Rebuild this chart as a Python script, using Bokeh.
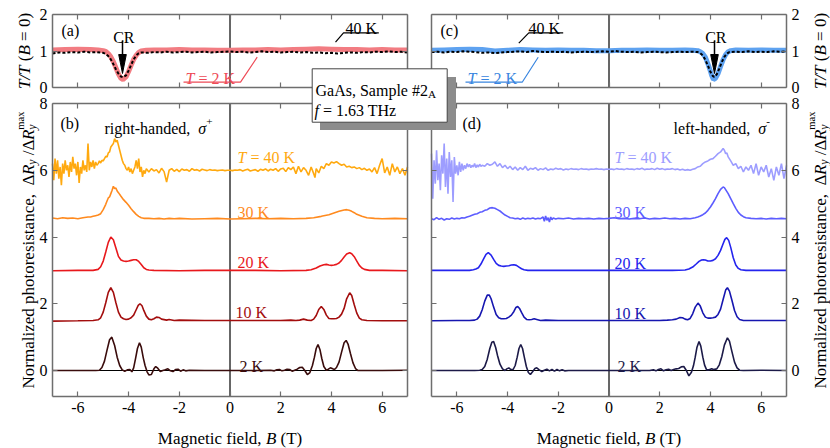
import math
from bokeh.plotting import figure
from bokeh.models import Range1d, LinearAxis, FixedTicker, Label, BoxAnnotation
from bokeh.embed import file_html
from bokeh.resources import INLINE

# ---------------- data ----------------
B_LIM = (-7, 7)
R_LIM = (-0.78, 8)
T_LIM = (0, 2)
B_TICKS = [-6, -4, -2, 0, 2, 4, 6]
B_TICK_TEXT = ["-6", "-4", "-2", "0", "2", "4", "6"]
R_TICKS = [0, 2, 4, 6, 8]
T_TICKS = [0, 1, 2]

# (a) transmission, T = 2 K (thick) and 40 K (dotted)
TA_2K = [(-7.0,1.03),(-6.5,1.04),(-6.0,1.05),(-5.5,1.04),(-5.2,1.03),(-5.0,1.01),(-4.9,0.99),(-4.8,0.93),
         (-4.7,0.84),(-4.6,0.71),(-4.5,0.54),(-4.4,0.37),(-4.3,0.25),(-4.22,0.22),(-4.1,0.29),(-4.0,0.44),
         (-3.9,0.61),(-3.8,0.77),(-3.7,0.88),(-3.6,0.96),(-3.5,1.0),(-3.3,1.02),(-3.0,1.03),(-2.5,1.03),
         (-2.0,1.04),(-1.5,1.03),(-1.0,1.03),(-0.5,1.02),(0.0,1.02),(0.5,1.03),(1.0,1.03),(1.5,1.04),
         (2.0,1.03),(2.5,1.04),(3.0,1.05),(3.5,1.06),(4.0,1.05),(4.5,1.04),(5.0,1.04),(5.5,1.03),
         (6.0,1.04),(6.5,1.03),(7.0,1.03)]
TA_40K = [(-7.0,0.93),(-6.75,0.96),(-6.5,0.95),(-6.25,0.97),(-6.0,0.96),(-5.75,0.98),(-5.5,0.96),(-5.25,0.97),
          (-5.0,0.95),(-4.9,0.92),(-4.8,0.86),(-4.7,0.77),(-4.6,0.64),(-4.5,0.5),(-4.4,0.38),(-4.3,0.3),
          (-4.22,0.28),(-4.1,0.33),(-4.0,0.46),(-3.9,0.62),(-3.8,0.77),(-3.7,0.88),(-3.6,0.94),(-3.5,0.96),
          (-3.25,0.95),(-3.0,0.97),(-2.75,0.96),(-2.5,0.98),(-2.25,0.96),(-2.0,0.97),(-1.75,0.98),(-1.5,0.96),
          (-1.25,0.97),(-1.0,0.98),(-0.75,0.96),(-0.5,0.97),(-0.25,0.98),(0.0,0.99),(0.25,0.97),(0.5,0.98),
          (0.75,0.96),(1.0,0.97),(1.25,0.99),(1.5,0.97),(1.75,0.98),(2.0,0.96),(2.25,0.97),(2.5,0.98),
          (2.75,0.96),(3.0,0.97),(3.25,0.95),(3.5,0.96),(3.75,0.94),(4.0,0.95),(4.25,0.93),(4.5,0.95),
          (4.75,0.96),(5.0,0.95),(5.25,0.97),(5.5,0.96),(5.75,0.98),(6.0,0.97),(6.25,0.99),(6.5,0.97),
          (6.75,0.98),(7.0,0.96)]
# (c) transmission
TC_2K = [(-7.0,1.02),(-6.5,1.03),(-6.0,1.04),(-5.5,1.05),(-5.0,1.04),(-4.5,1.0),(-4.0,1.02),(-3.5,1.04),
         (-3.0,1.03),(-2.5,1.02),(-2.0,1.03),(-1.5,1.02),(-1.0,1.02),(-0.5,1.01),(0.0,1.01),(0.5,1.02),
         (1.0,1.02),(1.5,1.03),(2.0,1.02),(2.5,1.02),(3.0,1.03),(3.3,1.02),(3.5,1.01),(3.6,0.98),(3.7,0.93),
         (3.8,0.83),(3.9,0.65),(4.0,0.45),(4.05,0.33),(4.12,0.22),(4.2,0.25),(4.3,0.38),(4.4,0.58),(4.5,0.76),
         (4.6,0.9),(4.7,0.98),(4.8,1.01),(5.0,1.03),(5.5,1.02),(6.0,1.03),(6.5,1.02),(7.0,1.02)]
TC_40K = [(-7.0,0.97),(-6.75,0.98),(-6.5,0.96),(-6.25,0.98),(-6.0,0.97),(-5.75,0.99),(-5.5,0.98),(-5.25,0.97),
          (-5.0,0.95),(-4.75,0.96),(-4.5,0.94),(-4.25,0.96),(-4.0,0.97),(-3.75,0.98),(-3.5,0.99),(-3.25,0.97),
          (-3.0,1.0),(-2.75,0.98),(-2.5,0.97),(-2.25,0.98),(-2.0,0.97),(-1.75,0.98),(-1.5,0.96),(-1.25,0.97),
          (-1.0,0.98),(-0.75,0.97),(-0.5,0.98),(-0.25,0.99),(0.0,0.98),(0.25,1.0),(0.5,0.98),(0.75,0.97),
          (1.0,0.98),(1.25,0.96),(1.5,0.97),(1.75,0.98),(2.0,0.97),(2.25,0.96),(2.5,0.97),(2.75,0.98),
          (3.0,0.97),(3.25,0.98),(3.5,0.97),(3.6,0.94),(3.7,0.88),(3.8,0.76),(3.9,0.6),(4.0,0.43),(4.1,0.31),
          (4.15,0.29),(4.25,0.36),(4.35,0.52),(4.45,0.7),(4.55,0.84),(4.65,0.93),(4.75,0.97),(5.0,0.98),
          (5.25,0.97),(5.5,0.99),(5.75,0.97),(6.0,0.98),(6.25,0.97),(6.5,0.99),(6.75,0.98),(7.0,0.99)]

# (b) right-handed sigma+, photoresistance (offset curves)
PB_2K = [(-7.0,0.0),(-6.0,0.0),(-5.3,0.0),(-5.15,0.01),(-5.05,0.09),(-4.95,0.28),(-4.85,0.61),(-4.75,0.92),
         (-4.66,1.0),(-4.55,0.75),(-4.45,0.40),(-4.35,0.15),(-4.25,0.02),(-4.15,-0.02),(-4.05,0.02),(-3.95,0.03),
         (-3.87,-0.04),(-3.8,0.08),(-3.72,0.38),(-3.65,0.66),(-3.57,0.83),(-3.5,0.70),(-3.42,0.38),(-3.35,0.15),
         (-3.27,-0.04),(-3.2,-0.13),(-3.1,-0.12),(-3.0,0.05),(-2.93,0.12),(-2.85,0.07),(-2.75,-0.03),(-2.65,0.0),
         (-2.55,0.02),(-2.45,0.05),(-2.35,-0.01),(-2.25,-0.03),(-2.15,0.03),(-2.05,0.04),(-1.95,-0.02),(-1.85,0.02),
         (-1.75,-0.01),(-1.6,0.01),(-1.0,0.0),(0.0,0.0),(1.0,0.0),(1.6,0.01),(1.75,-0.01),(1.85,0.02),(1.95,0.03),
         (2.05,-0.01),(2.15,0.01),(2.25,0.04),(2.35,0.03),(2.45,-0.02),(2.55,0.01),(2.65,0.04),(2.75,0.09),
         (2.85,0.1),(2.95,0.0),(3.05,-0.12),(3.15,-0.06),(3.25,0.15),(3.33,0.40),(3.4,0.66),(3.47,0.78),
         (3.55,0.62),(3.62,0.36),(3.7,0.12),(3.8,0.01),(3.88,0.04),(3.96,0.08),(4.05,0.05),(4.12,0.03),
         (4.2,0.09),(4.3,0.25),(4.4,0.55),(4.5,0.83),(4.58,0.9),(4.66,0.78),(4.75,0.51),(4.85,0.23),
         (4.95,0.06),(5.05,0.0),(5.2,0.0),(6.0,0.0),(7.0,0.01)]
PB_10K = [(-7.0,1.48),(-6.0,1.49),(-5.4,1.5),(-5.2,1.52),(-5.1,1.58),(-5.0,1.75),(-4.9,2.03),(-4.8,2.34),
          (-4.7,2.48),(-4.6,2.34),(-4.5,2.03),(-4.4,1.75),(-4.3,1.6),(-4.2,1.55),(-4.1,1.53),(-4.0,1.54),
          (-3.9,1.58),(-3.8,1.66),(-3.7,1.82),(-3.62,1.95),(-3.55,2.0),(-3.47,1.94),(-3.4,1.8),(-3.3,1.63),
          (-3.2,1.54),(-3.1,1.52),(-3.0,1.55),(-2.9,1.6),(-2.8,1.59),(-2.7,1.54),(-2.5,1.51),(-2.4,1.53),
          (-2.2,1.5),(-2.0,1.51),(-1.0,1.5),(0.0,1.5),(1.0,1.5),(2.0,1.5),(2.4,1.51),(2.6,1.5),(2.75,1.51),
          (2.9,1.54),(3.05,1.51),(3.2,1.5),(3.3,1.54),(3.4,1.65),(3.5,1.83),(3.6,1.92),(3.7,1.83),(3.8,1.66),
          (3.9,1.56),(4.0,1.55),(4.1,1.55),(4.2,1.56),(4.3,1.6),(4.4,1.69),(4.5,1.86),(4.6,2.15),(4.72,2.33),
          (4.8,2.25),(4.9,1.97),(5.0,1.72),(5.1,1.57),(5.2,1.52),(5.4,1.5),(6.0,1.49),(7.0,1.49)]
PB_20K = [(-7.0,2.99),(-6.0,3.0),(-5.4,3.0),(-5.2,3.03),(-5.1,3.11),(-5.0,3.28),(-4.9,3.55),(-4.8,3.84),
          (-4.7,4.0),(-4.6,3.92),(-4.5,3.67),(-4.4,3.42),(-4.3,3.31),(-4.2,3.28),(-4.1,3.27),(-4.0,3.28),
          (-3.9,3.3),(-3.8,3.32),(-3.7,3.32),(-3.6,3.27),(-3.5,3.18),(-3.4,3.08),(-3.3,3.03),(-3.2,3.01),
          (-3.0,3.0),(-2.0,2.99),(-1.0,3.0),(0.0,3.0),(1.0,3.0),(2.0,2.99),(3.0,3.0),(3.2,3.02),(3.4,3.07),
          (3.55,3.13),(3.7,3.17),(3.8,3.18),(3.9,3.16),(4.0,3.15),(4.1,3.16),(4.2,3.18),(4.3,3.22),(4.4,3.3),
          (4.5,3.4),(4.6,3.49),(4.72,3.53),(4.8,3.5),(4.9,3.41),(5.0,3.28),(5.1,3.15),(5.2,3.07),(5.3,3.03),
          (5.5,3.0),(6.0,3.0),(7.0,2.99)]
PB_30K = [(-7.0,4.57),(-6.8,4.55),(-6.6,4.58),(-6.4,4.56),(-6.2,4.57),(-6.0,4.55),(-5.8,4.58),(-5.6,4.6),
          (-5.5,4.6),(-5.4,4.62),(-5.3,4.64),(-5.2,4.66),(-5.1,4.7),(-5.0,4.82),(-4.9,4.98),(-4.85,5.08),
          (-4.8,5.17),(-4.75,5.2),(-4.7,5.3),(-4.65,5.4),(-4.6,5.52),(-4.55,5.45),(-4.5,5.47),(-4.45,5.38),
          (-4.4,5.33),(-4.3,5.22),(-4.2,5.12),(-4.1,5.04),(-4.0,4.95),(-3.9,4.85),(-3.8,4.76),(-3.7,4.68),
          (-3.6,4.62),(-3.5,4.58),(-3.4,4.56),(-3.2,4.56),(-3.0,4.55),(-2.8,4.56),(-2.6,4.54),(-2.4,4.56),
          (-2.2,4.55),(-2.0,4.56),(-1.5,4.54),(-1.0,4.55),(-0.5,4.56),(0.0,4.54),(0.5,4.55),(1.0,4.56),
          (1.5,4.55),(2.0,4.56),(2.5,4.55),(3.0,4.56),(3.3,4.58),(3.6,4.62),(3.9,4.67),(4.1,4.72),(4.3,4.77),
          (4.5,4.81),(4.6,4.82),(4.7,4.8),(4.8,4.77),(4.9,4.73),(5.0,4.68),(5.2,4.62),(5.4,4.58),(5.7,4.56),
          (6.0,4.55),(6.5,4.56),(7.0,4.55)]
PB_40K = [(-7.00,6.2),(-6.95,5.7),(-6.90,6.35),(-6.85,5.9),(-6.80,6.3),(-6.75,5.75),(-6.70,6.1),(-6.65,5.55),
          (-6.60,6.2),(-6.55,5.9),(-6.50,6.3),(-6.45,6.0),(-6.40,6.15),(-6.35,5.8),(-6.30,6.25),(-6.25,5.95),
          (-6.20,6.4),(-6.15,6.05),(-6.10,6.2),(-6.05,5.85),(-6.00,6.25),(-5.95,5.62),(-5.90,6.1),(-5.85,5.9),
          (-5.80,6.3),(-5.75,6.0),(-5.70,6.15),(-5.65,5.95),(-5.60,6.8),(-5.55,6.0),(-5.50,6.25),(-5.45,6.1),
          (-5.40,6.3),(-5.35,6.05),(-5.30,6.25),(-5.25,6.15),(-5.20,6.2),(-5.15,6.28),(-5.10,6.22),(-5.05,6.3),
          (-5.00,6.28),(-4.95,6.35),(-4.90,6.42),(-4.85,6.4),(-4.80,6.52),(-4.75,6.55),(-4.70,6.7),(-4.65,6.75),
          (-4.60,6.8),(-4.55,6.95),(-4.50,6.85),(-4.45,6.9),(-4.40,6.75),(-4.35,6.6),(-4.30,6.45),(-4.25,6.3),
          (-4.20,6.2),(-4.15,6.15),(-4.10,6.05),(-4.05,6.0),(-4.00,6.1),(-3.95,5.95),(-3.90,6.05),(-3.85,5.9),
          (-3.80,6.0),(-3.75,6.1),(-3.70,6.3),(-3.65,6.05),(-3.60,6.35),(-3.55,5.95),(-3.50,6.1),(-3.45,5.8),
          (-3.40,6.0),(-3.35,5.9),(-3.30,6.05),(-3.2,5.95),(-3.1,6.05),(-3.0,5.98),(-2.9,6.02),(-2.8,5.92),
          (-2.7,6.06),(-2.6,5.96),(-2.5,5.65),(-2.4,6.0),(-2.3,6.05),(-2.2,5.97),(-2.1,6.03),(-2.0,5.96),
          (-1.9,6.04),(-1.8,6.0),(-1.7,6.02),(-1.6,5.97),(-1.5,6.05),(-1.4,6.0),(-1.3,6.02),(-1.2,5.98),
          (-1.1,6.03),(-1.0,6.01),(-0.9,5.99),(-0.8,6.02),(-0.7,6.0),(-0.6,6.01),(-0.5,5.99),(-0.4,6.0),
          (-0.3,6.01),(-0.2,5.99),(-0.1,6.0),(0.0,6.0),(0.1,5.99),(0.2,6.01),(0.3,6.0),(0.4,6.02),(0.5,5.98),
          (0.6,6.01),(0.7,6.03),(0.8,5.98),(0.9,6.0),(1.0,6.02),(1.1,5.97),(1.2,6.03),(1.3,6.0),(1.4,6.04),
          (1.5,5.98),(1.6,6.03),(1.7,6.0),(1.8,6.05),(1.9,5.97),(2.0,6.04),(2.1,6.06),(2.2,5.96),(2.3,6.08),
          (2.4,6.02),(2.5,6.1),(2.6,5.9),(2.7,6.12),(2.8,5.95),(2.9,6.08),(3.0,6.0),(3.1,5.85),(3.2,6.1),
          (3.3,5.9),(3.35,5.78),(3.4,6.05),(3.5,5.92),(3.6,6.12),(3.7,6.05),(3.8,6.2),(3.9,6.15),(4.0,6.25),
          (4.1,6.22),(4.2,6.26),(4.3,6.2),(4.4,6.15),(4.5,6.18),(4.6,6.1),(4.7,6.12),(4.8,6.08),(4.9,6.1),
          (5.0,6.05),(5.1,6.08),(5.2,6.02),(5.3,6.06),(5.4,6.0),(5.5,6.04),(5.6,5.95),(5.7,6.08),(5.8,5.9),
          (5.9,6.15),(6.0,6.35),(6.1,5.92),(6.2,6.1),(6.3,5.85),(6.4,6.2),(6.5,5.95),(6.6,6.1),(6.7,5.9),
          (6.8,6.05),(6.9,5.85),(7.0,6.1)]

# (d) left-handed sigma-, photoresistance (offset curves)
PD_2K = [(-7.0,0.0),(-6.0,0.0),(-5.3,0.0),(-5.1,0.01),(-5.0,0.03),(-4.9,0.12),(-4.8,0.34),(-4.7,0.66),
         (-4.62,0.85),(-4.55,0.87),(-4.47,0.69),(-4.4,0.46),(-4.3,0.19),(-4.2,0.05),(-4.1,0.0),(-4.03,0.05),
         (-3.95,0.08),(-3.87,0.03),(-3.78,0.03),(-3.7,0.15),(-3.62,0.40),(-3.55,0.66),(-3.48,0.78),(-3.41,0.66),
         (-3.34,0.40),(-3.26,0.12),(-3.18,-0.06),(-3.1,-0.12),(-3.0,-0.02),(-2.92,0.06),(-2.85,0.08),
         (-2.75,0.02),(-2.65,-0.03),(-2.55,0.01),(-2.45,0.04),(-2.35,-0.01),(-2.25,0.03),(-2.15,-0.02),
         (-2.05,0.03),(-1.95,-0.01),(-1.85,0.02),(-1.75,-0.01),(-1.6,0.0),(-1.0,0.0),(0.0,0.0),(1.0,0.0),
         (1.6,0.0),(1.75,0.02),(1.85,-0.01),(1.95,0.03),(2.05,0.05),(2.15,-0.01),(2.25,0.02),(2.35,0.04),
         (2.45,0.0),(2.55,0.03),(2.65,0.05),(2.75,0.06),(2.85,0.11),(2.95,0.12),(3.05,0.0),(3.15,-0.16),
         (3.25,-0.05),(3.33,0.14),(3.4,0.40),(3.47,0.70),(3.55,0.87),(3.62,0.73),(3.7,0.40),(3.77,0.16),
         (3.85,0.02),(3.95,0.02),(4.05,0.05),(4.12,0.03),(4.25,0.05),(4.35,0.17),(4.45,0.42),(4.55,0.76),
         (4.67,0.98),(4.75,0.88),(4.85,0.56),(4.95,0.25),(5.05,0.08),(5.15,0.01),(5.3,0.0),(6.0,0.01),(7.0,0.0)]
PD_10K = [(-7.0,1.49),(-6.0,1.5),(-5.5,1.5),(-5.3,1.51),(-5.2,1.54),(-5.1,1.63),(-5.0,1.82),(-4.9,2.08),
          (-4.8,2.26),(-4.72,2.26),(-4.65,2.15),(-4.55,1.9),(-4.45,1.68),(-4.35,1.58),(-4.25,1.55),(-4.15,1.55),
          (-4.05,1.56),(-3.95,1.6),(-3.85,1.66),(-3.75,1.77),(-3.67,1.89),(-3.6,1.92),(-3.52,1.85),(-3.45,1.74),
          (-3.35,1.6),(-3.25,1.53),(-3.15,1.52),(-3.05,1.53),(-2.95,1.55),(-2.85,1.53),(-2.7,1.5),(-2.5,1.51),
          (-2.0,1.5),(-1.0,1.5),(0.0,1.5),(1.0,1.5),(2.0,1.5),(2.3,1.51),(2.5,1.52),(2.65,1.54),(2.8,1.59),
          (2.9,1.58),(3.0,1.54),(3.1,1.52),(3.2,1.56),(3.3,1.7),(3.4,1.9),(3.51,2.02),(3.6,1.93),(3.7,1.73),
          (3.8,1.6),(3.9,1.57),(4.0,1.57),(4.1,1.58),(4.2,1.6),(4.3,1.68),(4.4,1.84),(4.5,2.13),(4.6,2.41),
          (4.67,2.48),(4.75,2.38),(4.85,2.1),(4.95,1.8),(5.05,1.61),(5.15,1.53),(5.3,1.5),(6.0,1.5),(7.0,1.5)]
PD_20K = [(-7.0,3.0),(-6.0,3.0),(-5.5,3.0),(-5.35,3.02),(-5.25,3.04),(-5.15,3.08),(-5.05,3.19),(-4.95,3.34),
          (-4.85,3.48),(-4.76,3.53),(-4.65,3.46),(-4.55,3.33),(-4.45,3.21),(-4.35,3.15),(-4.25,3.13),
          (-4.15,3.12),(-4.05,3.13),(-3.95,3.14),(-3.85,3.16),(-3.75,3.17),(-3.65,3.15),(-3.55,3.1),
          (-3.45,3.05),(-3.35,3.02),(-3.2,3.0),(-2.5,3.0),(-1.0,3.0),(0.0,3.0),(1.0,3.0),(2.5,3.0),(3.0,3.01),
          (3.15,3.04),(3.3,3.1),(3.45,3.2),(3.55,3.27),(3.65,3.31),(3.72,3.32),(3.8,3.31),(3.9,3.28),(4.0,3.28),
          (4.1,3.3),(4.2,3.35),(4.3,3.45),(4.4,3.6),(4.5,3.8),(4.57,3.93),(4.64,3.98),(4.72,3.9),(4.8,3.69),
          (4.9,3.38),(5.0,3.16),(5.1,3.06),(5.2,3.02),(5.4,3.0),(6.0,3.0),(7.0,3.0)]
PD_30K = [(-7.0,4.55),(-6.9,4.52),(-6.8,4.58),(-6.7,4.53),(-6.6,4.56),(-6.5,4.51),(-6.4,4.55),(-6.3,4.53),
          (-6.2,4.57),(-6.1,4.54),(-6.0,4.56),(-5.9,4.55),(-5.8,4.58),(-5.7,4.57),(-5.6,4.6),(-5.5,4.62),
          (-5.4,4.65),(-5.3,4.68),(-5.2,4.7),(-5.1,4.74),(-5.0,4.76),(-4.9,4.8),(-4.8,4.82),(-4.7,4.87),
          (-4.6,4.88),(-4.5,4.86),(-4.4,4.82),(-4.3,4.78),(-4.2,4.72),(-4.1,4.66),(-4.0,4.62),(-3.9,4.58),
          (-3.8,4.57),(-3.7,4.55),(-3.6,4.56),(-3.5,4.53),(-3.4,4.57),(-3.3,4.54),(-3.2,4.56),(-3.1,4.55),
          (-3.0,4.57),(-2.9,4.54),(-2.8,4.56),(-2.7,4.55),(-2.6,4.6),(-2.55,4.47),(-2.5,4.63),(-2.45,4.5),
          (-2.4,4.58),(-2.35,4.45),(-2.3,4.6),(-2.25,4.52),(-2.2,4.57),(-2.1,4.54),(-2.0,4.56),(-1.8,4.55),
          (-1.6,4.57),(-1.4,4.54),(-1.2,4.56),(-1.0,4.55),(-0.8,4.56),(-0.6,4.54),(-0.4,4.56),(-0.2,4.55),
          (0.0,4.56),(0.2,4.58),(0.4,4.55),(0.6,4.56),(0.8,4.54),(1.0,4.56),(1.2,4.55),(1.4,4.57),(1.6,4.54),
          (1.8,4.56),(2.0,4.55),(2.2,4.57),(2.4,4.55),(2.6,4.56),(2.8,4.54),(3.0,4.56),(3.2,4.55),(3.4,4.58),
          (3.5,4.6),(3.6,4.63),(3.7,4.67),(3.8,4.72),(3.9,4.8),(4.0,4.9),(4.1,5.02),(4.2,5.15),(4.3,5.3),
          (4.4,5.43),(4.5,5.5),(4.55,5.48),(4.6,5.42),(4.7,5.3),(4.8,5.15),(4.9,5.0),(5.0,4.86),(5.1,4.74),
          (5.2,4.66),(5.3,4.61),(5.4,4.58),(5.6,4.56),(5.8,4.55),(6.0,4.56),(6.2,4.54),(6.4,4.56),(6.6,4.55),
          (6.8,4.56),(7.0,4.55)]
PD_40K = [(-7.00,6.5),(-6.95,5.15),(-6.90,6.3),(-6.85,5.6),(-6.80,6.6),(-6.75,5.7),(-6.70,6.2),(-6.65,5.4),
          (-6.60,6.45),(-6.55,5.9),(-6.50,6.8),(-6.45,5.5),(-6.40,6.35),(-6.35,5.3),(-6.30,6.55),(-6.25,5.8),
          (-6.20,6.3),(-6.15,5.05),(-6.10,6.4),(-6.05,5.9),(-6.00,6.15),(-5.95,5.85),(-5.90,6.25),(-5.85,5.95),
          (-5.80,6.2),(-5.75,6.0),(-5.70,6.15),(-5.65,6.05),(-5.60,6.2),(-5.55,6.1),(-5.50,6.18),(-5.45,6.08),
          (-5.40,6.15),(-5.35,6.1),(-5.30,6.2),(-5.25,6.08),(-5.20,6.16),(-5.15,6.1),(-5.10,6.18),(-5.05,6.12),
          (-5.00,6.15),(-4.9,6.12),(-4.8,6.2),(-4.7,6.15),(-4.6,6.18),(-4.5,6.25),(-4.4,6.12),(-4.3,6.2),
          (-4.2,6.08),(-4.1,6.15),(-4.0,6.05),(-3.9,6.12),(-3.8,6.02),(-3.7,6.1),(-3.6,6.0),(-3.5,6.08),
          (-3.4,6.02),(-3.3,6.12),(-3.2,6.0),(-3.1,6.06),(-3.0,6.03),(-2.9,6.08),(-2.8,6.0),(-2.7,6.05),
          (-2.6,6.02),(-2.5,6.07),(-2.4,6.0),(-2.3,6.04),(-2.2,6.02),(-2.1,6.06),(-2.0,6.03),(-1.9,6.05),
          (-1.8,6.01),(-1.7,6.04),(-1.6,6.02),(-1.5,6.05),(-1.4,6.03),(-1.3,6.04),(-1.2,6.02),(-1.1,6.05),
          (-1.0,6.03),(-0.9,6.04),(-0.8,6.02),(-0.7,6.04),(-0.6,6.03),(-0.5,6.05),(-0.4,6.03),(-0.3,6.04),
          (-0.2,6.02),(-0.1,6.04),(0.0,6.03),(0.1,6.04),(0.2,6.02),(0.3,6.05),(0.4,6.03),(0.5,6.04),(0.6,6.02),
          (0.7,6.05),(0.8,6.03),(0.9,6.04),(1.0,6.02),(1.1,6.05),(1.2,6.03),(1.3,6.06),(1.4,6.02),(1.5,6.04),
          (1.6,6.03),(1.7,6.05),(1.8,6.02),(1.9,6.06),(2.0,6.03),(2.1,6.05),(2.2,6.02),(2.3,6.04),(2.4,6.03),
          (2.5,6.05),(2.6,6.02),(2.7,6.04),(2.8,6.01),(2.9,6.03),(3.0,6.0),(3.1,6.02),(3.2,6.0),(3.3,6.03),
          (3.4,6.05),(3.5,6.1),(3.6,6.12),(3.7,6.2),(3.8,6.25),(3.9,6.28),(4.0,6.33),(4.1,6.35),(4.2,6.42),
          (4.3,6.5),(4.4,6.55),(4.5,6.65),(4.55,6.6),(4.6,6.5),(4.65,6.52),(4.7,6.4),(4.8,6.28),(4.9,6.15),
          (5.0,6.2),(5.1,6.05),(5.2,6.12),(5.3,5.95),(5.4,6.1),(5.5,6.0),(5.6,6.15),(5.7,5.9),(5.8,6.2),
          (5.9,5.85),(6.0,6.1),(6.1,5.95),(6.2,6.15),(6.3,5.8),(6.4,6.05),(6.5,5.7),(6.6,6.1),(6.7,5.85),
          (6.8,6.2),(6.9,5.75),(7.0,6.15)]

TEMP_LABELS = ["40 K", "30 K", "20 K", "10 K", "2 K"]
B_CURVES = [PB_40K, PB_30K, PB_20K, PB_10K, PB_2K]
D_CURVES = [PD_40K, PD_30K, PD_20K, PD_10K, PD_2K]

# ---------------- styles ----------------
FONT = "Liberation Serif"
FRAME = "#6e6e6e"
B_COLORS = ["#ffa90f", "#ff8a1e", "#e8181c", "#a30d0d", "#3a0c0c"]
D_COLORS = ["#9d9dff", "#5c5cff", "#2424ee", "#1616b0", "#1c1a48"]
RED_THICK, RED_TXT = "#f27c82", "#ee4b57"
BLUE_THICK, BLUE_TXT = "#5ea2f0", "#3a86e0"

# the plotting frame covers the whole canvas; panels are placed through several ranges
p = figure(width=830, height=448, x_range=Range1d(-9.051, 23.682), y_range=Range1d(-2.337, 11.088),
           output_backend="svg", toolbar_location=None, x_axis_type=None, y_axis_type=None,
           min_border_left=0, min_border_right=0, min_border_top=0, min_border_bottom=0,
           outline_line_color=None, background_fill_color="white", border_fill_color="white")
p.extra_x_ranges = {"right": Range1d(-23.997, 8.735)}
p.extra_y_ranges = {"top": Range1d(-9.890, 2.3836)}


def XP(px):
    return (px - 229.5) / 25.357


def YP(py):
    return (370.0 - py) / 33.37


def frame_axis(side, loc, bounds, ticks, labels, xr="default", yr="default", texts=None):
    ax = LinearAxis(x_range_name=xr, y_range_name=yr, fixed_location=loc, bounds=bounds,
                    ticker=FixedTicker(ticks=ticks, minor_ticks=[]),
                    axis_line_color=FRAME, axis_line_width=1.5,
                    major_tick_line_color=FRAME, major_tick_line_width=1.2,
                    major_tick_in=5, major_tick_out=0, minor_tick_line_color=None,
                    major_label_text_font=FONT, major_label_text_font_size="16px",
                    major_label_text_color="black", major_label_standoff=5)
    if not labels:
        ax.major_label_overrides = {float(t): "" for t in ticks}
    elif texts is not None:
        ax.major_label_overrides = {float(t): s for t, s in zip(ticks, texts)}
    p.add_layout(ax, side)


for xr, lab_left, lab_right in (("default", True, False), ("right", False, True)):
    frame_axis("below", R_LIM[0], B_LIM, B_TICKS, True, xr=xr, texts=B_TICK_TEXT)
    frame_axis("above", R_LIM[1], B_LIM, B_TICKS, False, xr=xr)
    frame_axis("left", B_LIM[0], R_LIM, R_TICKS, lab_left, xr=xr)
    frame_axis("right", B_LIM[1], R_LIM, R_TICKS, lab_right, xr=xr)
    frame_axis("below", T_LIM[0], B_LIM, B_TICKS, False, xr=xr, yr="top")
    frame_axis("above", T_LIM[1], B_LIM, B_TICKS, False, xr=xr, yr="top")
    frame_axis("left", B_LIM[0], T_LIM, T_TICKS, lab_left, xr=xr, yr="top")
    frame_axis("right", B_LIM[1], T_LIM, T_TICKS, lab_right, xr=xr, yr="top")


def curve(pairs, color, width, xr="default", yr="default", dash="solid"):
    xs = [a for a, b in pairs]
    ys = [b for a, b in pairs]
    p.line(xs, ys, line_color=color, line_width=width, line_dash=dash,
           x_range_name=xr, y_range_name=yr)


for xr in ("default", "right"):
    p.line(list(B_LIM), [0, 0], line_color="black", line_width=1, x_range_name=xr)
    p.line([0, 0], list(R_LIM), line_color="black", line_width=1.2, x_range_name=xr)
    p.line([0, 0], list(T_LIM), line_color="black", line_width=1.2, x_range_name=xr, y_range_name="top")

curve(TA_2K, RED_THICK, 5, yr="top")
curve(TA_40K, "black", 2, yr="top", dash="3 2")
curve(TC_2K, BLUE_THICK, 5, xr="right", yr="top")
curve(TC_40K, "black", 2, xr="right", yr="top", dash="3 2")
for pairs, col in zip(B_CURVES, B_COLORS):
    curve(pairs, col, 1.6)
for pairs, col in zip(D_CURVES, D_COLORS):
    curve(pairs, col, 1.6, xr="right")

# ---------------- text helpers ----------------
WREG = {' ': 250, '(': 333, ')': 333, ',': 250, '/': 278, '=': 564, '.': 250, '-': 333, '#': 500, '+': 564,
        'A': 722, 'B': 667, 'G': 722, 'H': 722, 'K': 722, 'M': 889, 'N': 722, 'R': 667, 'S': 556, 'T': 611,
        'a': 444, 'c': 444, 'd': 500, 'e': 444, 'f': 333, 'g': 500, 'h': 500, 'i': 278, 'l': 278, 'm': 778,
        'n': 500, 'o': 500, 'p': 500, 'r': 333, 's': 389, 't': 278, 'x': 500, 'y': 500, 'z': 444,
        '\u0394': 612, '\u03c3': 550}
WIT = {'T': 556, 'B': 611, 'R': 611, 'y': 444, 'f': 278, '\u03c3': 500}


def tw(s, size, italic):
    return sum((WIT.get(c) if italic and c in WIT else WREG.get(c, 500)) for c in s) * size / 1000.0


def rich(parts, px, py, size, color, vertical=False, center=False):
    total = sum(tw(t, size * sc, it) for t, it, sc, rise, adv in parts if adv)
    pos = -total / 2 if center else 0.0
    for t, it, sc, rise, adv in parts:
        fs = size * sc
        body = t.lstrip(" ")
        q = pos + tw(t[:len(t) - len(body)], fs, it)
        if vertical:
            x, y = px - rise * size, py - q
        else:
            x, y = px + q, py - rise * size
        p.add_layout(Label(x=XP(x), y=YP(y), text=body.rstrip(" "), text_font=FONT,
                           text_font_size="%.1fpx" % fs,
                           text_font_style="italic" if it else "normal", text_color=color,
                           angle=math.pi / 2 if vertical else 0.0,
                           text_baseline="alphabetic", text_align="left"))
        if adv:
            pos += tw(t, fs, it)


def R(t, sc=1.0, rise=0.0, adv=True):
    return (t, False, sc, rise, adv)


def I(t, sc=1.0, rise=0.0, adv=True):
    return (t, True, sc, rise, adv)


def poly(pts, color, width=1.2):
    p.line([XP(a) for a, b in pts], [YP(b) for a, b in pts], line_color=color, line_width=width)


def down_arrow(px, y0, y1):
    p.line([XP(px), XP(px)], [YP(y0), YP(y1 - 15)], line_color="black", line_width=1.5)
    p.patch([XP(px), XP(px - 3.8), XP(px + 3.8)], [YP(y1), YP(y1 - 19), YP(y1 - 19)],
            fill_color="black", line_color="black")


# ---------------- top panels annotations ----------------
rich([R("(a)")], 61, 30, 16, "black")
rich([R("CR")], 122, 37, 16, "black", center=True)
down_arrow(122, 40, 73)
rich([R("40 K")], 345, 28, 16, "black")
poly([(378.3, 32.3), (343, 32.3), (335, 41.7)], "black")
rich([I("T"), R(" = 2 K")], 185, 78, 16, RED_TXT)
poly([(183, 81.7), (240, 81.7), (256.7, 56.7)], RED_TXT)

rich([R("(c)")], 440, 30, 16, "black")
rich([R("40 K")], 528, 28, 16, "black")
poly([(562.7, 32.3), (528.3, 32.3), (518.3, 42.7)], "black")
rich([I("T"), R(" = 2 K")], 467, 78, 16, BLUE_TXT)
poly([(465, 81.7), (521.7, 81.7), (537.7, 56.7)], BLUE_TXT)
rich([R("CR")], 714, 37, 16, "black", center=True)
down_arrow(714, 40, 73)

# ---------------- bottom panels annotations ----------------
rich([R("(b)")], 60, 123, 16, "black")
rich([R("right-handed,"), I("  \u03c3"), R("+", 0.7, 0.45)], 104, 128, 16, "black")
rich([R("(d)")], 462, 123, 16, "black")
rich([R("left-handed,"), I("  \u03c3"), R("-", 0.7, 0.45)], 673, 128, 16, "black")

B_LAB_POS = [(237, 157), (237, 212), (237, 262), (235, 312), (239, 366)]
D_LAB_POS = [(614, 157), (614, 212), (614, 263), (614, 313), (617, 366)]
for i, (txt, col, (lx, ly)) in enumerate(zip(TEMP_LABELS, B_COLORS, B_LAB_POS)):
    parts = [I("T"), R(" = " + txt)] if i == 0 else [R(txt)]
    rich(parts, lx, ly, 16, col)
for i, (txt, col, (lx, ly)) in enumerate(zip(TEMP_LABELS, D_COLORS, D_LAB_POS)):
    parts = [I("T"), R(" = " + txt)] if i == 0 else [R(txt)]
    rich(parts, lx, ly, 16, col)

# ---------------- sample box ----------------
p.add_layout(BoxAnnotation(left=XP(319.5), right=XP(455.5), top=YP(76.5), bottom=YP(129.5),
                           fill_color="#8c8c8c", fill_alpha=1, line_color=None))
p.add_layout(BoxAnnotation(left=XP(311.7), right=XP(446.7), top=YP(68.3), bottom=YP(121.7),
                           fill_color="white", fill_alpha=1, line_color="#444444", line_alpha=1,
                           line_width=1))
rich([R("GaAs, Sample #2"), R("A", 0.7, -0.2)], 315, 90, 16, "black")
rich([I("f"), R(" = 1.63 THz")], 314, 110, 16, "black")

# ---------------- axis titles ----------------
x_title = [R("Magnetic field,"), I(" B"), R(" (T)")]
rich(x_title, 229.5, 438, 17, "black", center=True)
rich(x_title, 608.5, 438, 17, "black", center=True)

t_title = [I("T/T"), R(" ("), I("B"), R(" = 0)")]
rich(t_title, 24, 50.5, 17, "black", vertical=True, center=True)
rich(t_title, 820, 50.5, 17, "black", vertical=True, center=True)

r_title = [R("Normalized photoresistance,"), R("  \u0394"), I("R"), I("y", 0.7, -0.22),
           R(" /\u0394"), I("R"), I("y", 0.7, -0.22, False), R("max", 0.62, 0.5)]
rich(r_title, 28, 249.5, 17, "black", vertical=True, center=True)
rich(r_title, 820, 249.5, 17, "black", vertical=True, center=True)

open("out.html", "w").write(file_html(p, INLINE))
